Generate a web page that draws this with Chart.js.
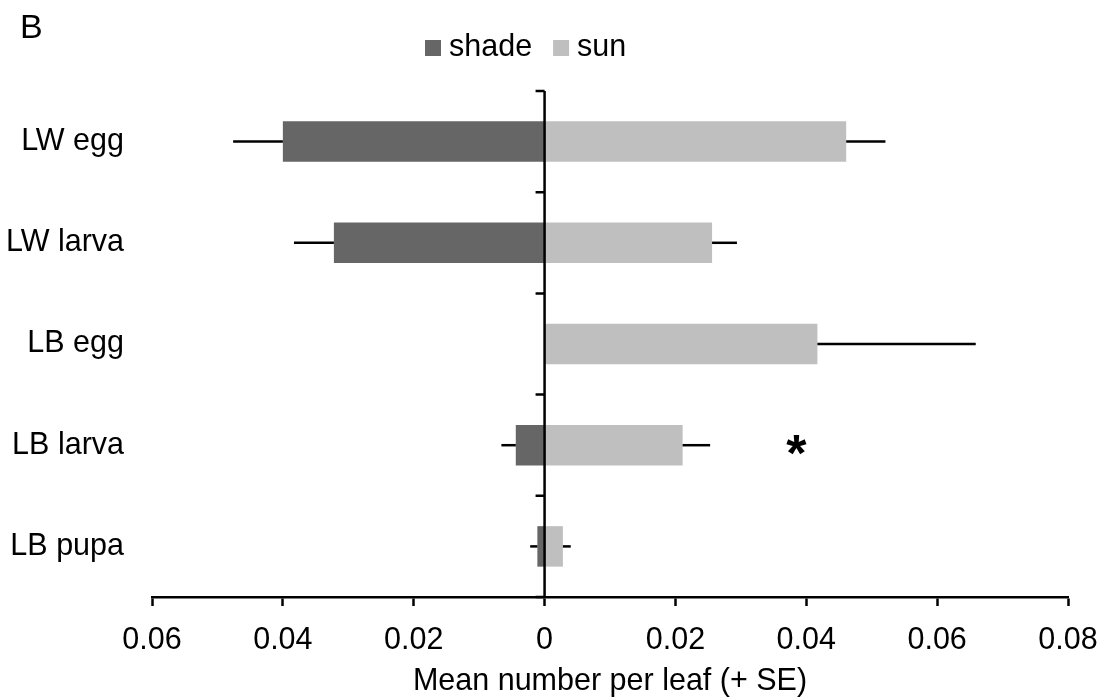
<!DOCTYPE html>
<html>
<head>
<meta charset="utf-8">
<script src="https://cdn.jsdelivr.net/npm/chart.js@4.4.1/dist/chart.umd.min.js"></script>
<style>
  body { margin: 0; background: #fff; }
</style>
</head>
<body>
<canvas id="graficoBarras" width="1104" height="700"></canvas>
<script>
// Categories (stage) and mean number per leaf with standard errors
const stages = ['LW egg', 'LW larva', 'LB egg', 'LB larva', 'LB pupa'];
const shadeMean = [0.0400, 0.0322, 0, 0.0044, 0.0011];
const shadeSE = [0.0076, 0.0061, 0, 0.0022, 0.0011];
const sunMean = [0.0461, 0.0256, 0.0417, 0.0211, 0.0028];
const sunSE = [0.0060, 0.0038, 0.0242, 0.0042, 0.0012];
const xTickValues = [-0.06, -0.04, -0.02, 0, 0.02, 0.04, 0.06, 0.08];
const significant = ['LB larva']; // shade vs sun differs

Chart.defaults.font.family = "'Liberation Sans', Arial, sans-serif";
Chart.defaults.color = '#000';

const FONT_SIZE = 30.5;

// zero line with short ticks between categories
const zeroAxis = {
    id: 'zeroAxis',
    afterDatasetsDraw(chart) {
        const { ctx, chartArea, scales: { x, y } } = chart;
        const x0 = x.getPixelForValue(0);
        ctx.save();
        ctx.strokeStyle = '#000';
        ctx.lineWidth = 2.5;
        ctx.beginPath();
        ctx.moveTo(x0, chartArea.top);
        ctx.lineTo(x0, chartArea.bottom);
        for (let k = 0; k <= stages.length; k++) {
            const yy = y.getPixelForValue(k - 0.5);
            ctx.moveTo(x0 - 9, yy);
            ctx.lineTo(x0, yy);
        }
        ctx.stroke();
        ctx.restore();
    }
};

// one-sided error bars (+ SE, away from zero)
const errorBars = {
    id: 'errorBars',
    afterDatasetsDraw(chart) {
        const { ctx, scales: { x } } = chart;
        ctx.save();
        ctx.strokeStyle = '#000';
        ctx.lineWidth = 2.5;
        chart.data.datasets.forEach((ds, i) => {
            const meta = chart.getDatasetMeta(i);
            ds.data.forEach((v, j) => {
                const se = ds.se[j];
                if (!se) return;
                const bar = meta.data[j];
                const end = v < 0 ? v - se : v + se;
                ctx.beginPath();
                ctx.moveTo(bar.x, bar.y);
                ctx.lineTo(x.getPixelForValue(end), bar.y);
                ctx.stroke();
            });
        });
        ctx.restore();
    }
};

// legend, panel letter and significance marks
const extras = {
    id: 'extras',
    afterDraw(chart) {
        const { ctx, scales: { x, y } } = chart;
        ctx.save();
        ctx.fillStyle = '#000';
        ctx.font = "34px 'Liberation Sans', Arial, sans-serif";
        ctx.textBaseline = 'alphabetic';
        ctx.textAlign = 'left';
        ctx.fillText('B', 20, 38);

        ctx.font = FONT_SIZE + "px 'Liberation Sans', Arial, sans-serif";
        ctx.textBaseline = 'middle';
        let lx = 425;
        const ly = 48;
        chart.data.datasets.forEach(ds => {
            ctx.fillStyle = ds.backgroundColor;
            ctx.fillRect(lx, ly - 8, 16, 16);
            ctx.fillStyle = '#000';
            ctx.fillText(ds.label, lx + 24, ly);
            lx += 24 + ctx.measureText(ds.label).width + 21;
        });

        ctx.font = "bold 52px 'Liberation Sans', Arial, sans-serif";
        ctx.textAlign = 'center';
        ctx.textBaseline = 'alphabetic';
        significant.forEach(s => {
            const i = stages.indexOf(s);
            ctx.fillText('*', x.getPixelForValue(0.0385), y.getPixelForValue(i) + 26);
        });
        ctx.restore();
    }
};

const ctx = document.getElementById('graficoBarras').getContext('2d');
const graficoBarras = new Chart(ctx, {
    type: 'bar',
    data: {
        labels: stages,
        datasets: [{
            label: 'shade',
            data: shadeMean.map(v => -v), // drawn to the left of zero
            se: shadeSE,
            backgroundColor: '#666666'
        }, {
            label: 'sun',
            data: sunMean,
            se: sunSE,
            backgroundColor: '#bfbfbf'
        }]
    },
    options: {
        indexAxis: 'y',
        responsive: false,
        animation: false,
        barPercentage: 0.4,
        categoryPercentage: 1,
        layout: { padding: { top: 91, right: 36, left: 0, bottom: 0 } },
        plugins: {
            legend: { display: false },
            tooltip: { enabled: false }
        },
        scales: {
            x: {
                stacked: true,
                min: -0.06,
                max: 0.08,
                afterBuildTicks: scale => {
                    scale.ticks = xTickValues.map(v => ({ value: v }));
                },
                afterFit: scale => {
                    scale.height = 103;
                    scale.paddingLeft = 0;
                    scale.paddingRight = 36;
                },
                border: { color: '#000', width: 2.5 },
                grid: {
                    drawOnChartArea: false,
                    tickLength: 9,
                    tickColor: '#000',
                    tickWidth: 2.5
                },
                ticks: {
                    padding: 16,
                    maxRotation: 0,
                    font: { size: FONT_SIZE },
                    callback: v => String(Math.abs(Math.round(v * 100) / 100))
                },
                title: {
                    display: true,
                    text: 'Mean number per leaf (+ SE)',
                    font: { size: FONT_SIZE },
                    padding: { top: 0, bottom: 0 }
                }
            },
            y: {
                stacked: true,
                afterFit: scale => { scale.width = 152; },
                border: { display: false },
                grid: { display: false, drawTicks: false },
                ticks: {
                    padding: 28,
                    font: { size: FONT_SIZE }
                }
            }
        }
    },
    plugins: [zeroAxis, errorBars, extras]
});
</script>
</body>
</html>
